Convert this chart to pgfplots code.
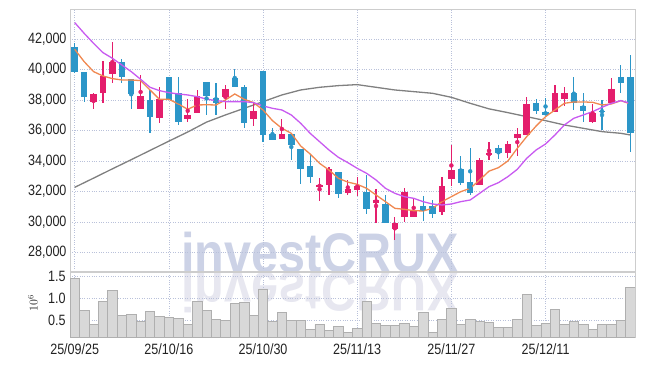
\documentclass[border=0pt]{standalone}
\usepackage{pgfplots}
\pgfplotsset{compat=1.18}
\usepackage{pgfplotstable}
\usepackage{fontspec}
\setmainfont{Liberation Sans}
\definecolor{upred}{RGB}{228,30,108}
\definecolor{downblue}{RGB}{44,150,200}
\definecolor{maorange}{RGB}{240,136,80}
\definecolor{mapurple}{RGB}{200,90,240}
\definecolor{magray}{RGB}{128,128,128}
\definecolor{gridc}{RGB}{185,193,218}
\definecolor{framec}{RGB}{205,205,205}
\definecolor{wm}{RGB}{204,210,230}
\definecolor{wmr}{RGB}{231,231,240}
\definecolor{volfill}{RGB}{216,216,216}
\definecolor{voledge}{RGB}{175,175,175}
\definecolor{txt}{RGB}{34,34,34}

\pgfplotstableread{
i O H L C
2 37905 38496 37401 38408
3 38496 40598 37839 39591
4 39744 41847 39153 40511
7 37401 39679 37401 38277
9 36810 38846 36525 38058
12 36744 38058 36547 37029
13 37182 38671 37182 38277
16 38190 39022 37401 38715
19 36744 37795 36306 37270
22 35430 36788 35430 35780
26 32320 32890 31400 32430
27 32408 33634 31772 33459
29 31882 32758 31772 32167
30 32101 32933 31707 32364
32 31269 32145 29955 31444
34 29561 30349 28816 29911
35 30305 32233 30021 31948
36 30305 31554 30305 30722
39 30634 32977 30459 32364
40 32802 35058 32364 33415
43 32408 34182 32408 34072
44 34401 35277 34072 34510
46 34510 35342 34182 35123
47 35496 36153 34335 35780
48 35737 38233 35737 37751
51 37204 39022 37204 38452
52 38058 38846 37620 38452
55 36591 37751 36525 37138
57 37795 39437 37795 38715
}\upcandles

\pgfplotstableread{
i O H L C
0 41474 41737 39766 39876
1 39876 39876 37905 38233
5 40511 40686 39109 39547
6 39372 39372 37401 38408
8 38014 38671 35824 36919
10 39503 39503 38014 38014
11 38496 39503 36372 36591
14 39197 39197 37029 38277
15 38168 39109 37029 37839
17 39460 40073 38846 38846
18 38846 38977 36175 36525
20 39920 39920 35277 35737
21 35759 36175 35364 35364
23 35780 35780 34072 35036
24 34795 34795 32495 33459
25 33700 34466 32539 32977
28 33284 33284 31553 31816
31 31992 33087 30524 30853
33 31181 31773 29911 29911
37 31050 31729 30086 30722
38 31050 31444 30240 30502
41 33481 34335 32430 32583
42 32627 34883 31773 31926
45 34839 35036 34116 34554
49 37795 38058 37094 37313
50 37226 38123 37051 37051
53 38452 39503 37357 37795
54 37620 38452 36591 37313
56 37300 38014 36043 37250
58 39503 40292 38452 39109
59 39503 40949 34620 35824
}\downcandles

\pgfplotstableread{
i v
0 1.46
1 0.73
2 0.405
3 0.93
4 1.18
5 0.61
6 0.63
7 0.47
8 0.70
9 0.58
10 0.56
11 0.54
12 0.405
13 0.93
14 0.72
15 0.51
16 0.49
17 0.88
18 0.90
19 0.61
20 1.22
21 0.47
22 0.68
23 0.49
24 0.49
25 0.28
26 0.40
27 0.26
28 0.35
29 0.22
30 0.31
31 0.93
32 0.42
33 0.38
34 0.38
35 0.42
36 0.35
37 0.68
38 0.22
39 0.51
40 0.77
41 0.40
42 0.51
43 0.47
44 0.44
45 0.33
46 0.33
47 0.51
48 1.09
49 0.38
50 0.42
51 0.75
52 0.40
53 0.47
54 0.40
55 0.28
56 0.40
57 0.40
58 0.49
59 1.25
}\volumes

\pgfplotstableread{
i m5 m10
0 41343 43095
1 40533 42394
2 39876 41737
3 39591 41124
4 39416 40752
5 39328 40314
6 39328 39876
7 39284 39372
8 38671 38846
9 38058 38627
10 38058 38496
11 37751 38408
12 37401 38343
13 37685 38233
14 37700 38070
15 37685 37970
16 38014 37905
17 38408 37905
18 38058 37905
19 37839 37839
20 37357 37620
21 36656 37466
22 36153 37357
23 35824 37029
24 34992 36481
25 34466 35824
26 33853 35277
27 33415 34729
28 32868 34247
29 32620 33900
30 32474 33525
31 32211 33196
32 31773 32758
33 31335 32211
34 30897 31882
35 30831 31663
36 30743 31554
37 30722 31335
38 30897 31181
39 31335 31116
40 31663 31181
41 31992 31335
42 32211 31444
43 32758 31882
44 33340 32320
45 33569 32583
46 34007 32977
47 34839 33459
48 35605 34182
49 36306 34729
50 36919 35123
51 37357 35715
52 37795 36372
53 37883 36810
54 37883 37029
55 37861 37248
56 37685 37533
57 37751 37795
58 37970 37970
59 37751 37795
}\mashort

\pgfplotstableread{
i m
0 32276
2 32880
4 33490
6 34090
8 34700
10 35310
12 35910
14 36560
16 37029
18 37466
20 37905
22 38343
24 38671
26 38846
28 38956
30 39022
32 38846
34 38671
36 38562
38 38452
40 38189
42 37795
44 37430
46 37182
48 36919
50 36656
52 36372
54 36153
56 35934
58 35824
59 35715
}\malong

\pgfplotsset{
  candleaxis/.style={
    scale only axis,
    width=565bp,
    xmin=-0.5, xmax=59.5,
    axis line style={framec},
    major tick length=0pt,
    grid=major,
    major grid style={gridc, dotted, line width=0.7bp},
    xtick={0,10,20,30,40,50},
    tick label style={font=\fontsize{15}{15}\selectfont, text=txt, inner sep=0pt, xscale=0.84},
    /pgf/number format/assume math mode=true,
  },
}

\begin{document}
\begin{tikzpicture}
\path[use as bounding box] (0bp,0bp) rectangle (645bp,366bp);
% watermark and its reflection
\node[anchor=base, text=wmr, font=\fontsize{56}{56}\selectfont\bfseries, inner sep=0pt, xscale=0.87, yscale=-1] at (320bp,93.6bp) {investCRUX};
\node[anchor=base, text=wm, font=\fontsize{56}{56}\selectfont\bfseries, inner sep=0pt, xscale=0.87] at (320bp,93.6bp) {investCRUX};

\begin{axis}[candleaxis,
  at={(70bp,356.7bp)}, anchor=north west,
  height=261.7bp,
  ymin=26780, ymax=43970,
  ytick={28000,30000,32000,34000,36000,38000,40000,42000},
  scaled y ticks=false,
  xticklabels={},
  yticklabel style={xshift=-4bp},
  /pgf/number format/.cd, fixed, 1000 sep={,},
]
% long moving average
\addplot[magray, line width=1.3bp] table[x=i, y=m] {\malong};
% wicks
\addplot[downblue, only marks, mark=none, error bars/.cd, y dir=both, y explicit, error mark=none,
  error bar style={line width=1.1bp, downblue}]
  table[x=i, y expr={(\thisrow{H}+\thisrow{L})/2}, y error expr={(\thisrow{H}-\thisrow{L})/2}] {\downcandles};
\addplot[upred, only marks, mark=none, error bars/.cd, y dir=both, y explicit, error mark=none,
  error bar style={line width=1.1bp, upred}]
  table[x=i, y expr={(\thisrow{H}+\thisrow{L})/2}, y error expr={(\thisrow{H}-\thisrow{L})/2}] {\upcandles};
% bodies
\addplot[downblue, only marks, mark=none, error bars/.cd, y dir=both, y explicit, error mark=none,
  error bar style={line width=6.5bp, downblue}]
  table[x=i, y expr={(\thisrow{O}+\thisrow{C})/2}, y error expr={abs(\thisrow{O}-\thisrow{C})/2}] {\downcandles};
\addplot[upred, only marks, mark=none, error bars/.cd, y dir=both, y explicit, error mark=none,
  error bar style={line width=6.5bp, upred}]
  table[x=i, y expr={(\thisrow{O}+\thisrow{C})/2}, y error expr={abs(\thisrow{O}-\thisrow{C})/2}] {\upcandles};
% short moving averages
\addplot[maorange, line width=1.3bp] table[x=i, y=m5] {\mashort};
\addplot[mapurple, line width=1.3bp] table[x=i, y=m10] {\mashort};
\end{axis}

\begin{axis}[candleaxis,
  at={(70bp,94bp)}, anchor=north west,
  height=65.3bp,
  ymin=0.1, ymax=1.61,
  ytick={0.5,1,1.5},
  yticklabels={0.5,1.0,1.5},
  yticklabel style={xshift=-5bp},
  xticklabels={25/09/25,25/10/16,25/10/30,25/11/13,25/11/27,25/12/11},
  xticklabel style={yshift=-6bp},
]
\addplot[ybar, bar width=1, bar shift=0pt, fill=volfill, draw=voledge, line width=0.6bp] table[x=i, y=v] {\volumes};
\end{axis}
\node[rotate=90, text=txt, font=\fontsize{12}{12}\selectfont] at (33bp,63bp) {$10^{6}$};
\end{tikzpicture}
\end{document}
